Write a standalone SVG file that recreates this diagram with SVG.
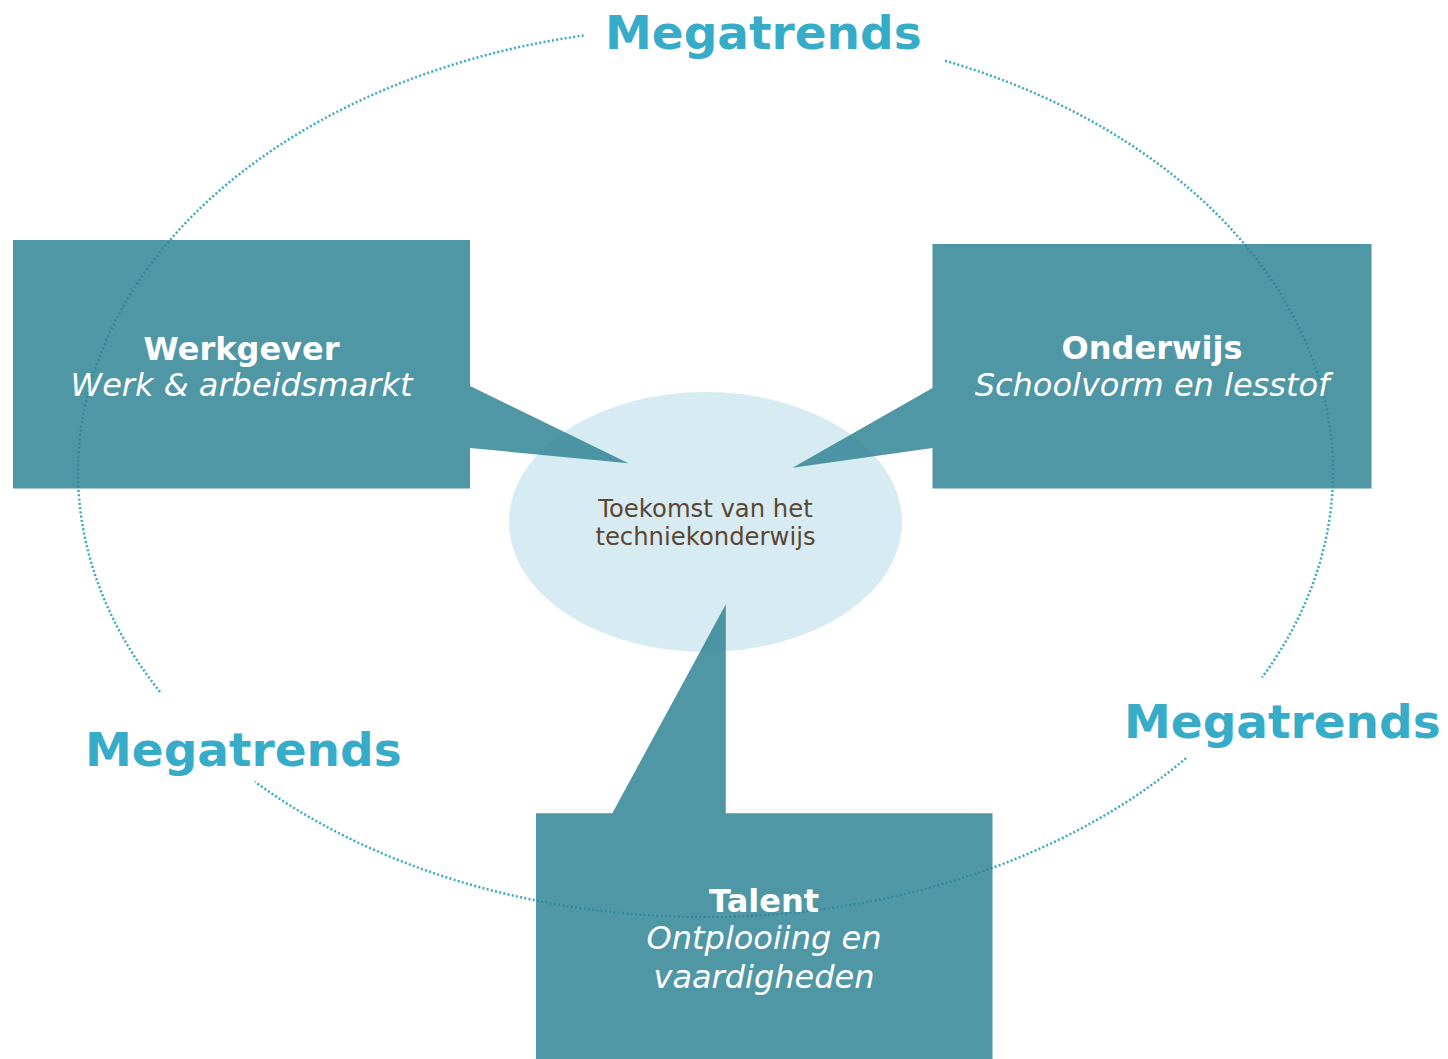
<svg xmlns="http://www.w3.org/2000/svg" width="1448" height="1059" viewBox="0 0 1448 1059">
<style>
.ring{fill:none;stroke:#37A9C6;stroke-width:2.5;stroke-dasharray:2 2.3}
.mega{font-family:"DejaVu Sans",Verdana,sans-serif;font-weight:bold;font-size:47px;fill:#36ACC8}
.box{fill:#318597;fill-opacity:0.85}
.title{font-family:"DejaVu Sans",Verdana,sans-serif;font-weight:bold;font-size:32px;fill:#ffffff;text-anchor:middle}
.sub{font-family:"DejaVu Sans",Verdana,sans-serif;font-style:italic;font-size:32px;fill:#ffffff;text-anchor:middle}
.core{font-family:"DejaVu Sans",Verdana,sans-serif;font-size:24.3px;fill:#5C4632;text-anchor:middle}
</style>
<rect width="1448" height="1059" fill="#ffffff"/>
<g id="connectors">
<path class="ring" d="M945,60.7 A627.5,445 0 0 1 1262,677.6"/>
<path class="ring" d="M1186,758.2 A627.5,445 0 0 1 255,781.8"/>
<path class="ring" d="M160,691.9 A627.5,445 0 0 1 585,35.3"/>
</g>
<g id="megatrends-top"><text class="mega" x="605" y="49">Megatrends</text></g>
<g id="megatrends-left"><text class="mega" x="85" y="766">Megatrends</text></g>
<g id="megatrends-right"><text class="mega" x="1124" y="738">Megatrends</text></g>
<g id="core">
<ellipse cx="705.5" cy="522" rx="196.5" ry="130" fill="#D6ECF2"/>
<text class="core" x="705.5" y="517">Toekomst van het</text>
<text class="core" x="705.5" y="545">techniekonderwijs</text>
</g>
<g id="werkgever">
<path class="box" d="M13,240 H470 V386 L628.5,463.3 L470,448 V488.5 H13 Z"/>
<text class="title" x="241.5" y="360">Werkgever</text>
<text class="sub" x="241.5" y="396">Werk &amp; arbeidsmarkt</text>
</g>
<g id="onderwijs">
<path class="box" d="M932.5,244 H1371.5 V488.5 H932.5 V448 L792.5,467.7 L932.5,388 Z"/>
<text class="title" x="1152" y="359">Onderwijs</text>
<text class="sub" x="1152" y="396">Schoolvorm en lesstof</text>
</g>
<g id="talent">
<path class="box" d="M536,813.3 H612.3 L725.8,604.3 V813.3 H992.5 V1059 H536 Z"/>
<text class="title" x="764" y="912">Talent</text>
<text class="sub" x="764" y="949">Ontplooiing en</text>
<text class="sub" x="764" y="988">vaardigheden</text>
</g>
</svg>
